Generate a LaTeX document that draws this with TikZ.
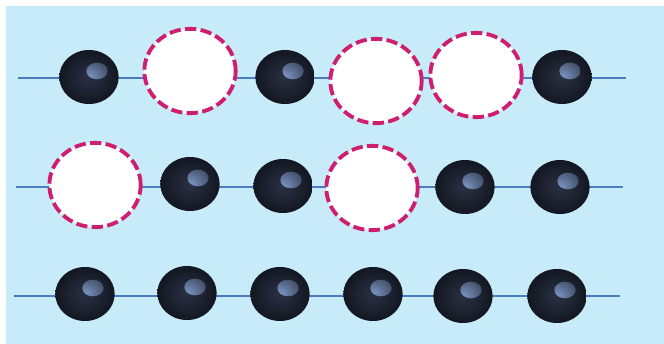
\documentclass[tikz,border=0pt]{standalone}
\usepackage{xcolor}
\usepackage{tikz}
\usetikzlibrary{shapes.geometric}

\definecolor{water}{RGB}{199,235,248}
\definecolor{wire}{RGB}{74,124,192}
\definecolor{holeline}{RGB}{206,30,112}
\definecolor{balldark}{RGB}{18,23,33}
\definecolor{ballmid}{RGB}{42,49,66}
\definecolor{shine}{RGB}{124,150,196}

\tikzset{
  wire/.style={draw=wire,line width=0.6mm},
  ball/.style={ellipse,minimum width=17.8mm,minimum height=16.2mm,inner sep=0pt,
    inner color=ballmid,outer color=balldark,
    path picture={
      \shade[inner color=shine,outer color=ballmid!85!balldark]
        ([xshift=2.4mm,yshift=1.8mm]path picture bounding box.center)
        ellipse (3.2mm and 2.5mm);
    }},
  hole/.style={ellipse,draw=holeline,fill=white,line width=1.15mm,
    dash pattern=on 3.4mm off 1.3mm,minimum width=27.4mm,minimum height=25.3mm,inner sep=0pt}
}

\begin{document}
\begin{tikzpicture}[x=0.3mm,y=-0.3mm]
\useasboundingbox (0,0) rectangle (664,344);
\fill[water] (6,6) rectangle (664,344);

% rows of the lattice
\coordinate (a0) at (18,78);  \coordinate (a9) at (626,78);
\coordinate (b0) at (16,187); \coordinate (b9) at (623,187);
\coordinate (c0) at (14,296); \coordinate (c9) at (620,296);
\draw[wire] (a0) -- (a9);
\draw[wire] (b0) -- (b9);
\draw[wire] (c0) -- (c9);

% top row
\node[ball] (a1) at (89,77) {};
\node[hole] (a2) at (190,71) {};
\node[ball] (a3) at (285,77) {};
\node[hole] (a4) at (376,81) {};
\node[hole] (a5) at (476,75) {};
\node[ball] (a6) at (562,77) {};

% middle row
\node[hole] (b1) at (95,185) {};
\node[ball] (b2) at (190,184) {};
\node[ball] (b3) at (283,186) {};
\node[hole] (b4) at (372,188) {};
\node[ball] (b5) at (465,187) {};
\node[ball] (b6) at (560,187) {};

% bottom row
\node[ball] (c1) at (85,294) {};
\node[ball] (c2) at (187,293) {};
\node[ball] (c3) at (280,294) {};
\node[ball] (c4) at (373,294) {};
\node[ball] (c5) at (463,296) {};
\node[ball] (c6) at (557,296) {};
\end{tikzpicture}
\end{document}
